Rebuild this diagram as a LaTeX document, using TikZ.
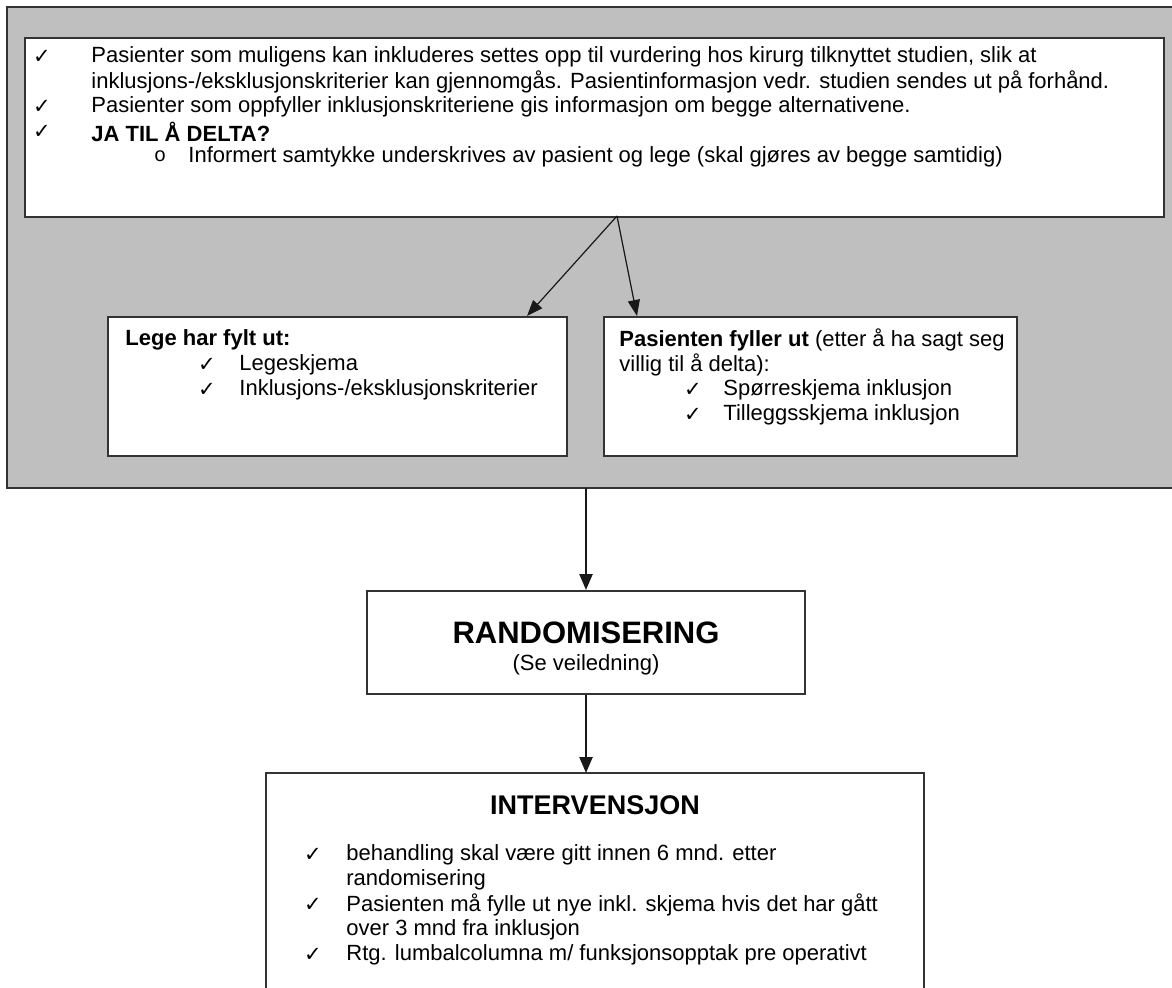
\documentclass[tikz,border=0pt]{standalone}
\usepackage{fontspec}
\setmainfont{Liberation Sans}
\newfontfamily\symfont{DejaVu Sans}
\newfontfamily\monofont{Liberation Mono}
\usetikzlibrary{arrows.meta}
\newcommand{\ck}{{\symfont\fontsize{10.5}{11}\selectfont ✓}}
\begin{document}
\begin{tikzpicture}[x=0.5pt,y=-0.5pt,
  boxline/.style={draw=black!80,line width=1pt},
  txt/.style={anchor=west,inner sep=0pt,font=\fontsize{11}{12.5}\selectfont},
  btxt/.style={anchor=west,inner sep=0pt,font=\fontsize{11}{12.5}\selectfont\bfseries},
  ckm/.style={anchor=center,inner sep=0pt},
  arr/.style={-{Triangle[length=8pt,width=6pt]},line width=0.6pt,black!90},
  arrb/.style={-{Triangle[length=8pt,width=6.5pt]},line width=1.2pt,black!90}]
\useasboundingbox (0,0) rectangle (1172,987);
% gray background
\fill[gray!50] (7,7) rectangle (1180,488);
\draw[boxline] (1180,7) -- (7,7) -- (7,488) -- (1180,488);
% top box
\node[boxline,fill=white,minimum width=1139pt*0.5,minimum height=179pt*0.5,anchor=north west,inner sep=0pt] (top) at (24,37) {};
\node[ckm] (c1) at (42,57) {\ck};
\node[txt] (t1) at (91,57) {Pasienter som muligens kan inkluderes settes opp til vurdering hos kirurg tilknyttet studien, slik at};
\node[txt] (t2) at (91,82) {inklusjons-/eksklusjonskriterier kan gjennomgås. Pasientinformasjon vedr. studien sendes ut på forhånd.};
\node[ckm] (c3) at (42,107) {\ck};
\node[txt] (t3) at (91,107) {Pasienter som oppfyller inklusjonskriteriene gis informasjon om begge alternativene.};
\node[ckm] (c4) at (42,132) {\ck};
\node[btxt] (t4) at (91,132) {JA TIL Å DELTA?};
\node[ckm,font=\monofont\fontsize{10}{10}\selectfont] (c5) at (160,156) {o};
\node[txt] (t5) at (188,157) {Informert samtykke underskrives av pasient og lege (skal gjøres av begge samtidig)};
% lower boxes
\node[boxline,fill=white,minimum width=459pt*0.5,minimum height=139pt*0.5,anchor=north west,inner sep=0pt] (lege) at (107,316) {};
\node[btxt] (l1) at (125,340) {Lege har fylt ut:};
\node[ckm] (lc2) at (207,365) {\ck};
\node[txt] (l2) at (239,365) {Legeskjema};
\node[ckm] (lc3) at (207,390) {\ck};
\node[txt] (l3) at (239,390) {Inklusjons-/eksklusjonskriterier};
\node[boxline,fill=white,minimum width=413pt*0.5,minimum height=139pt*0.5,anchor=north west,inner sep=0pt] (pas) at (603,316) {};
\node[txt] (p1) at (619,340) {\textbf{Pasienten fyller ut} (etter å ha sagt seg};
\node[txt] (p2) at (619,365) {villig til å delta):};
\node[ckm] (pc3) at (693,390) {\ck};
\node[txt] (p3) at (723,390) {Spørreskjema inklusjon};
\node[ckm] (pc4) at (693,415) {\ck};
\node[txt] (p4) at (723,415) {Tilleggsskjema inklusjon};
% arrows from top box
\coordinate (apex) at (617,216);
\coordinate (lt) at (527,316);
\coordinate (rt) at (637,316);
\draw[arr] (apex) -- (lt);
\draw[arr] (apex) -- (rt);
% randomisering
\node[boxline,fill=white,minimum width=438pt*0.5,minimum height=103pt*0.5,anchor=north west,inner sep=0pt] (rand) at (366,590) {};
\node[inner sep=0pt,font=\fontsize{15.5}{17}\selectfont\bfseries] (r1) at (586,633) {RANDOMISERING};
\node[inner sep=0pt,font=\fontsize{11}{12.5}\selectfont] (r2) at (586,665) {(Se veiledning)};
\coordinate (gbot) at (586,488);
\draw[arrb] (gbot) -- (rand.north -| gbot);
% intervensjon
\coordinate (iTL) at (266,773);
\coordinate (iTR) at (924,773);
\draw[boxline] (266,995) -- (iTL) -- (iTR) -- (924,995);
\node[inner sep=0pt,font=\fontsize{13.5}{15}\selectfont\bfseries] (i0) at (595,805) {INTERVENSJON};
\draw[arrb] (rand.south -| gbot) -- (586,773);
\node[ckm] (ic1) at (313,855) {\ck};
\node[txt] (i1) at (346,855) {behandling skal være gitt innen 6 mnd. etter};
\node[txt] (i2) at (346,880) {randomisering};
\node[ckm] (ic3) at (313,905) {\ck};
\node[txt] (i3) at (346,905) {Pasienten må fylle ut nye inkl. skjema hvis det har gått};
\node[txt] (i4) at (346,930) {over 3 mnd fra inklusjon};
\node[ckm] (ic5) at (313,955) {\ck};
\node[txt] (i5) at (346,955) {Rtg. lumbalcolumna m/ funksjonsopptak pre operativt};
\end{tikzpicture}
\end{document}
